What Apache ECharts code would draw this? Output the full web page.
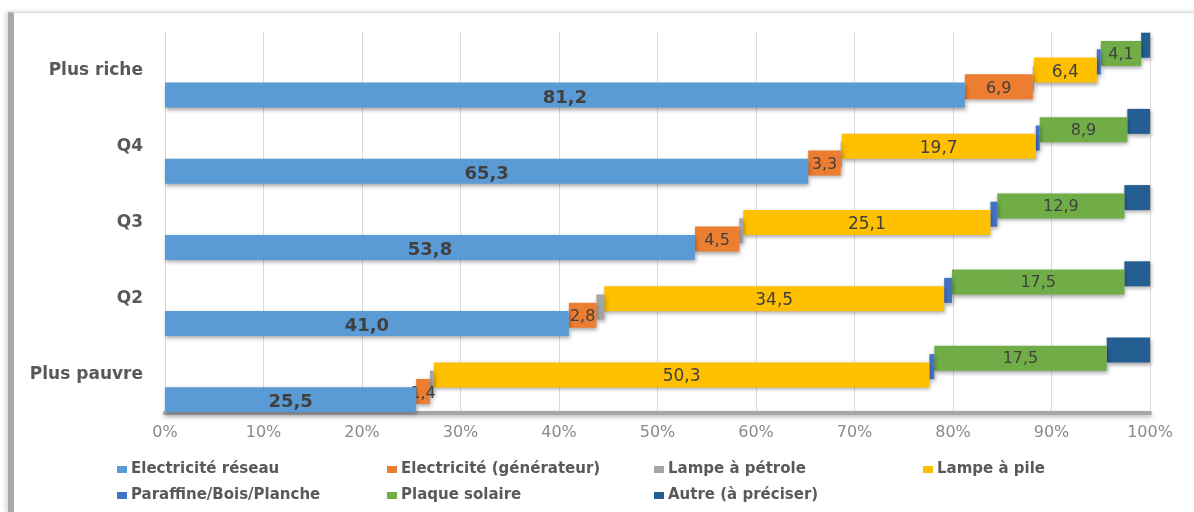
<!DOCTYPE html>
<html>
<head>
<meta charset="utf-8">
<script src="https://cdn.jsdelivr.net/npm/echarts@6/dist/echarts.min.js"></script>
<style>
html,body{margin:0;padding:0;background:#fff;}
#frame{position:absolute;left:8px;top:12px;width:1186px;height:500px;border-top:1px solid #dcdcdc;border-left:6px solid #a9a9a9;box-shadow:-2px 0 5px rgba(0,0,0,0.18);}
#chart{position:absolute;left:0;top:0;width:1194px;height:512px;}
</style>
</head>
<body>
<div id="frame"></div>
<div id="chart"></div>
<script>
const categories = ['Plus riche', 'Q4', 'Q3', 'Q2', 'Plus pauvre'];
const seriesNames = ['Electricité réseau', 'Electricité (générateur)', 'Lampe à pétrole', 'Lampe à pile', 'Paraffine/Bois/Planche', 'Plaque solaire', 'Autre (à préciser)'];
const reseau = [81.2, 65.3, 53.8, 41.0, 25.5];
const generateur = [6.9, 3.3, 4.5, 2.8, 1.4];
const petrole = [0.1, 0.1, 0.4, 0.8, 0.4];
const pile = [6.4, 19.7, 25.1, 34.5, 50.3];
const paraffine = [0.4, 0.4, 0.7, 0.8, 0.5];
const solaire = [4.1, 8.9, 12.9, 17.5, 17.5];
const autre = [0.9, 2.3, 2.6, 2.6, 4.4];
const xTicks = [0, 10, 20, 30, 40, 50, 60, 70, 80, 90, 100];

const values = [reseau, generateur, petrole, pile, paraffine, solaire, autre];
const colors = ['#5b9bd5', '#ed7d31', '#a5a5a5', '#ffc000', '#4472c4', '#70ad47', '#255e91'];
const showLabel = [true, true, false, true, false, true, false];
const labelSize = [18, 16, 12, 17, 12, 16, 12];
const labelWeight = ['bold', 'normal', 'normal', 'normal', 'normal', 'normal', 'normal'];
const labelOffset = [[0, 3], [0, 2], [0, 0], [0, 2], [0, 0], [0, 1], [0, 0]];
const fmt = v => v.toFixed(1).replace('.', ',');

const chart = echarts.init(document.getElementById('chart'));
const series = [];
const cum = categories.map(() => 0);
const order = [6, 5, 4, 3, 2, 1, 0];
const bases = [];
values.forEach((arr, i) => {
  bases[i] = cum.slice();
  arr.forEach((v, j) => { cum[j] = +(cum[j] + v).toFixed(2); });
});
order.forEach(i => {
  series.push({
    name: '_base' + i, type: 'bar', stack: 's' + i, barWidth: 25, barGap: '-66.8%',
    data: bases[i], itemStyle: { color: 'rgba(0,0,0,0)' }, silent: true, z: 1
  });
  series.push({
    name: seriesNames[i], type: 'bar', stack: 's' + i, barWidth: 25, barGap: '-66.8%',
    data: values[i], z: 2 + (6 - i),
    itemStyle: { color: colors[i], shadowBlur: 4, shadowColor: 'rgba(0,0,0,0.35)', shadowOffsetY: 2, shadowOffsetX: 1 },
    label: {
      show: showLabel[i], position: 'inside', formatter: p => fmt(p.value),
      color: '#404040', fontSize: labelSize[i], fontWeight: labelWeight[i], fontFamily: 'DejaVu Sans', offset: labelOffset[i]
    }
  });
});

const legendLeft = [117, 387, 654, 923, 117, 387, 654];
const legendTop = [462, 462, 462, 462, 488, 488, 488];
const legends = seriesNames.map((n, i) => ({
  data: [n], left: legendLeft[i], top: legendTop[i], padding: 0, icon: 'rect',
  itemWidth: 10, itemHeight: 7, itemGap: 6, selectedMode: false,
  textStyle: { color: '#595959', fontSize: 15, fontWeight: 'bold', fontFamily: 'DejaVu Sans', padding: [0, 0, 0, -1] }
}));

chart.setOption({
  animation: false,
  legend: legends,
  grid: { left: 165, right: 44, top: 32, bottom: 99, containLabel: false },
  xAxis: {
    type: 'value', min: 0, max: 100, interval: 10,
    axisLabel: { formatter: v => xTicks.includes(v) ? v + '%' : '', color: '#8a8a8a', fontSize: 16, fontFamily: 'DejaVu Sans', margin: 12 },
    axisLine: { show: true, lineStyle: { color: '#a6a6a6', width: 4, shadowBlur: 4, shadowColor: 'rgba(0,0,0,0.3)', shadowOffsetY: 2 } },
    axisTick: { show: false },
    splitLine: { show: true, lineStyle: { color: '#d9d9d9', width: 1 } }
  },
  yAxis: {
    type: 'category', data: categories, inverse: true,
    axisLine: { show: false }, axisTick: { show: false },
    axisLabel: { color: '#595959', fontSize: 17, fontWeight: 'bold', fontFamily: 'DejaVu Sans', margin: 22 }
  },
  series: series
});
</script>
</body>
</html>
